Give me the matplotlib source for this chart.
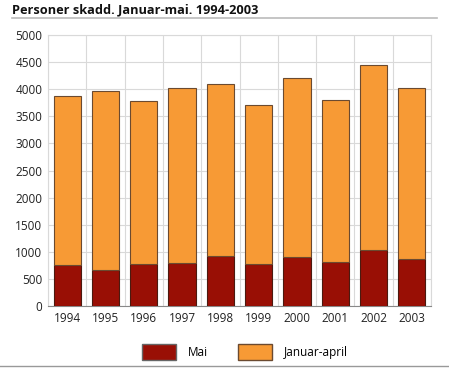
import matplotlib
matplotlib.use("Agg")
import matplotlib.pyplot as plt
from matplotlib.patches import Patch
from matplotlib.lines import Line2D
import numpy as np

years = ["1994", "1995", "1996", "1997", "1998", "1999", "2000", "2001", "2002", "2003"]
totals = [3880, 3960, 3780, 4020, 4090, 3710, 4210, 3800, 4450, 4030]
mai = [750, 660, 770, 790, 920, 770, 900, 810, 1040, 870]
jan_apr = [t - m for t, m in zip(totals, mai)]
yticks = [0, 500, 1000, 1500, 2000, 2500, 3000, 3500, 4000, 4500, 5000]

c_mai = "#990f05"
c_jan = "#f79a35"

plt.rcParams['font.family'] = ['Open Sans', 'DejaVu Sans']

fig = plt.figure(figsize=(4.49, 3.68), dpi=100)
ax = fig.add_axes([48/449, 1 - 306/368, (431-48)/449, (306-35)/368])

x = np.arange(len(years))
ax.bar(x, mai, width=0.71, color=c_mai, edgecolor="#4a1a10", linewidth=0.8, zorder=3)
ax.bar(x, jan_apr, bottom=mai, width=0.71, color=c_jan, edgecolor="#6b4a30", linewidth=0.8, zorder=3)

ax.set_xlim(-0.5, len(years) - 0.5)
ax.set_ylim(0, 5000)
ax.set_yticks(yticks)
ax.set_yticklabels([str(v) for v in yticks], fontsize=8.5, color="#222222")
ax.set_xticks(x)
ax.set_xticklabels(years, fontsize=8.5, color="#222222")
ax.set_xticks(np.arange(len(years) + 1) - 0.5, minor=True)
ax.tick_params(axis='x', which='both', length=0, pad=4)
ax.tick_params(axis='y', length=0, pad=4)
ax.grid(axis='y', color="#d9d9d9", linewidth=0.8, zorder=0)
ax.grid(axis='x', which='minor', color="#d9d9d9", linewidth=0.8, zorder=0)
for s in ax.spines.values():
    s.set_color("#d9d9d9")
    s.set_linewidth(0.8)
ax.spines['bottom'].set_color("#888888")

fig.text(12/449, 1 - 10/368, "Personer skadd. Januar-mai. 1994-2003", fontsize=9.2,
         fontweight='bold', va='center', ha='left', color="#111111")
fig.add_artist(Line2D([12/449, 437/449], [1 - 18/368, 1 - 18/368], color="#bbbbbb", linewidth=1.2))
fig.add_artist(Line2D([0, 1], [1 - 366/368, 1 - 366/368], color="#999999", linewidth=1.0))

handles = [Patch(facecolor=c_mai, edgecolor="#666666", label="Mai"),
           Patch(facecolor=c_jan, edgecolor="#6b4a30", label="Januar-april")]
fig.legend(handles=handles, loc='center', bbox_to_anchor=(245/449, 1 - 352/368), ncol=2,
           frameon=False, fontsize=8.5, handlelength=2.9, handleheight=1.6,
           columnspacing=2.5, handletextpad=1.0)

fig.savefig("out.png", dpi=100)
